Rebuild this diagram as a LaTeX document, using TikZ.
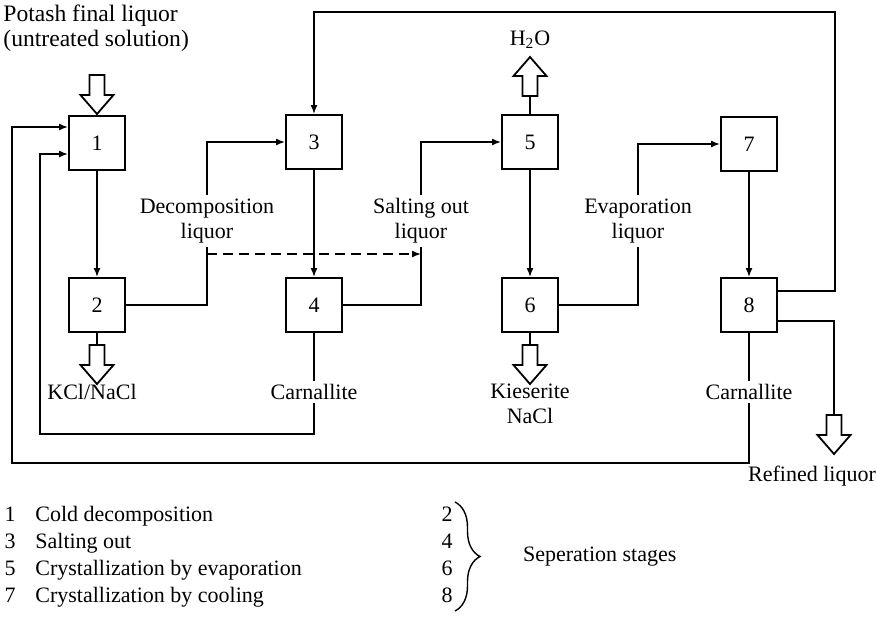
\documentclass[tikz,border=0pt]{standalone}
\usepackage{fontspec}
\setmainfont{Liberation Serif}
\usetikzlibrary{arrows.meta,decorations.pathreplacing}

\tikzset{
  stage/.style={draw,line width=1pt,minimum width=28pt,minimum height=27pt,inner sep=0pt},
  flow/.style={line width=0.75pt},
  lbl/.style={align=center,inner sep=1.5pt},
  blockdn/.pic={\draw[line width=0.9pt,fill=white] (-7.5,0) -- (-7.5,20) -- (-16.5,20) -- (0,39) -- (16.5,20) -- (7.5,20) -- (7.5,0) -- cycle;},
  blockup/.pic={\draw[line width=0.9pt,fill=white] (-7.5,0) -- (-7.5,-20) -- (-16.5,-20) -- (0,-39) -- (16.5,-20) -- (7.5,-20) -- (7.5,0) -- cycle;}
}

\begin{document}
\begin{tikzpicture}[x=0.5pt,y=-0.5pt,font=\fontsize{11}{12.5}\selectfont,>={Latex[length=4.5pt,width=3.5pt]}]
	\useasboundingbox (0,0) rectangle (877,629);

	% stages
	\path (97,143) node[stage] (b1) {1}
	(97,305) node[stage] (b2) {2}
	(314,142) node[stage] (b3) {3}
	(314,305) node[stage] (b4) {4}
	(530,142) node[stage] (b5) {5}
	(530,305) node[stage] (b6) {6}
	(749,144) node[stage] (b7) {7}
	(749,305) node[stage] (b8) {8};

	% labels
	\path (0,1) node[lbl,anchor=north west,align=left,font=\fontsize{11.8}{12.8}\selectfont] (feedlbl) {Potash final liquor\\(untreated solution)}
	(530,40) node[lbl] (h2olbl) {H\textsubscript{2}O}
	(207,221) node[lbl] (declbl) {Decomposition\\liquor}
	(421,221) node[lbl] (sltlbl) {Salting out\\liquor}
	(638,221) node[lbl] (evplbl) {Evaporation\\liquor}
	(92,392) node[lbl] (kcllbl) {KCl/NaCl}
	(314,392) node[lbl] (carn1) {Carnallite}
	(530,404) node[lbl] (kieslbl) {Kieserite\\NaCl}
	(749,392) node[lbl] (carn2) {Carnallite}
	(812,476) node[lbl] (rfdlbl) {Refined liquor};

	\coordinate (feed) at (97,75);
	\coordinate (kcl) at (97,345);
	\coordinate (kies) at (530,345);
	\coordinate (h2o) at (530,96);
	\coordinate (rfd) at (834,415);
	\coordinate (rcy) at (835,12);
	\coordinate (ca) at (40,434);
	\coordinate (cb) at (12,463);
	\coordinate (dsh1) at (207,254);
	\coordinate (dsh2) at (421,254);

	\draw[flow,->] (b1) -- (b2);
	\draw[flow] (b2) -| (declbl);
	\draw[flow,->] (declbl) |- (b3);
	\draw[flow,->] (b3) -- (b4);
	\draw[flow] (b4) -| (sltlbl);
	\draw[flow,->] (sltlbl) |- (b5);
	\draw[flow,->] (b5) -- (b6);
	\draw[flow] (b6) -| (evplbl);
	\draw[flow,->] (evplbl) |- (b7);
	\draw[flow,->] (b7) -- (b8);
	\draw[flow,dash pattern=on 5pt off 3pt,->] (dsh1) -- (dsh2);
	\draw[flow,->] ([yshift=7pt]b8.east) -| (rcy) -| (b3);
	\draw[flow] ([yshift=-8pt]b8.east) -| (rfd);
	\draw[flow] (b4) -- (carn1);
	\draw[flow,->] (carn1) |- (ca) |- ([yshift=-5.5pt]b1.west);
	\draw[flow] (b8) -- (carn2);
	\draw[flow,->] (carn2) |- (cb) |- ([yshift=8pt]b1.west);
	\draw[flow] (b2) -- (kcl);
	\draw[flow] (b6) -- (kies);
	\draw[flow] (b5) -- (h2o);

	\path (feed) pic {blockdn}
	(kcl) pic {blockdn}
	(kies) pic {blockdn}
	(rfd) pic {blockdn}
	(h2o) pic {blockup};

	% legend
	\foreach \n/\t/\yy in {1/Cold decomposition/521, 3/Salting out/548, 5/Crystallization by evaporation/575, 7/Crystallization by cooling/602}{
		\node[anchor=base] (n\n) at (10,\yy) {\n};
		\node[anchor=base west,inner sep=0pt] (t\n) at (35,\yy) {\t};
	}
	\foreach \n/\yy in {2/521, 4/548, 6/575, 8/602}
		\node[anchor=base] (n\n) at (447,\yy) {\n};
	\coordinate (brtop) at (455,502);
	\coordinate (brbot) at (455,611);
	\draw[line width=0.7pt,decorate,decoration={brace,amplitude=12.5pt}] (brtop) -- (brbot);
	\node[anchor=west] (seplbl) at (516,557) {Seperation stages};

\end{tikzpicture}
\end{document}
